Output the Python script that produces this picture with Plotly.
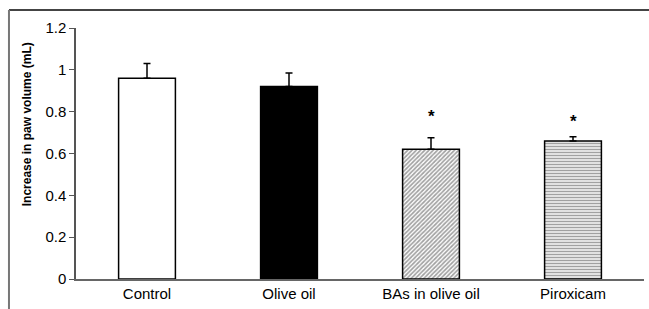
import plotly.graph_objects as go

categories = ["Control", "Olive oil", "BAs in olive oil", "Piroxicam"]
means = [0.96, 0.92, 0.62, 0.66]
errors = [0.07, 0.065, 0.055, 0.02]
significant = [False, False, True, True]
star_heights = [None, None, 0.775, 0.755]
y_ticks = [0, 0.2, 0.4, 0.6, 0.8, 1, 1.2]
y_tick_labels = ["0", "0.2", "0.4", "0.6", "0.8", "1", "1.2"]

fill_colors = ["white", "black", "white", "white"]
pattern_shapes = ["", "", "/", "-"]

fig = go.Figure()
fig.add_trace(go.Bar(
    x=categories, y=means,
    width=0.4,
    marker=dict(
        color=fill_colors,
        line=dict(color="black", width=1.5),
        pattern=dict(shape=pattern_shapes, fgcolor="#2a2a2a", bgcolor="white",
                     size=3, solidity=0.55),
    ),
    error_y=dict(type="data", array=errors, arrayminus=[0] * len(errors),
                 symmetric=False, color="black", thickness=1.5, width=3.5),
))

for c, s, h in zip(categories, significant, star_heights):
    if s:
        fig.add_annotation(x=c, y=h, text="<b>*</b>", showarrow=False,
                           font=dict(size=17, color="black", family="Liberation Sans"),
                           yanchor="middle")

fig.add_annotation(xref="paper", yref="paper", x=-0.086, y=0.617, xanchor="center", yanchor="middle",
                   text="<b>Increase in paw volume (mL)</b>", textangle=-90, showarrow=False,
                   font=dict(size=12, color="black", family="Liberation Sans"))

# outer frame lines (top and left border of the original figure)
fig.add_shape(type="line", xref="paper", yref="paper", x0=-0.118, x1=1.01, y0=1.072, y1=1.072,
              line=dict(color="#444", width=2))
fig.add_shape(type="line", xref="paper", yref="paper", x0=-0.118, x1=-0.118, y0=1.072, y1=-0.125,
              line=dict(color="#777", width=2))

fig.update_layout(
    width=649, height=309,
    margin=dict(l=76, r=5, t=28, b=30),
    paper_bgcolor="white", plot_bgcolor="white",
    showlegend=False,
    font=dict(family="Liberation Sans", size=15, color="black"),
    xaxis=dict(range=[-0.5, 3.5], showline=True, linecolor="#666", linewidth=1.5,
               ticks="", tickfont=dict(size=15), showgrid=False, zeroline=False),
    yaxis=dict(range=[0, 1.2], tickvals=y_ticks, ticktext=y_tick_labels,
               showline=True, linecolor="#555", linewidth=1.5, ticks="outside",
               ticklen=5, tickcolor="#555", tickfont=dict(size=15),
               showgrid=False, zeroline=False),
)

fig.write_html(
    "out.html",
    config={"displayModeBar": False},
    post_script="document.body.style.margin='0';"
                "document.documentElement.style.overflow='hidden';"
                "document.body.style.overflow='hidden';",
)
